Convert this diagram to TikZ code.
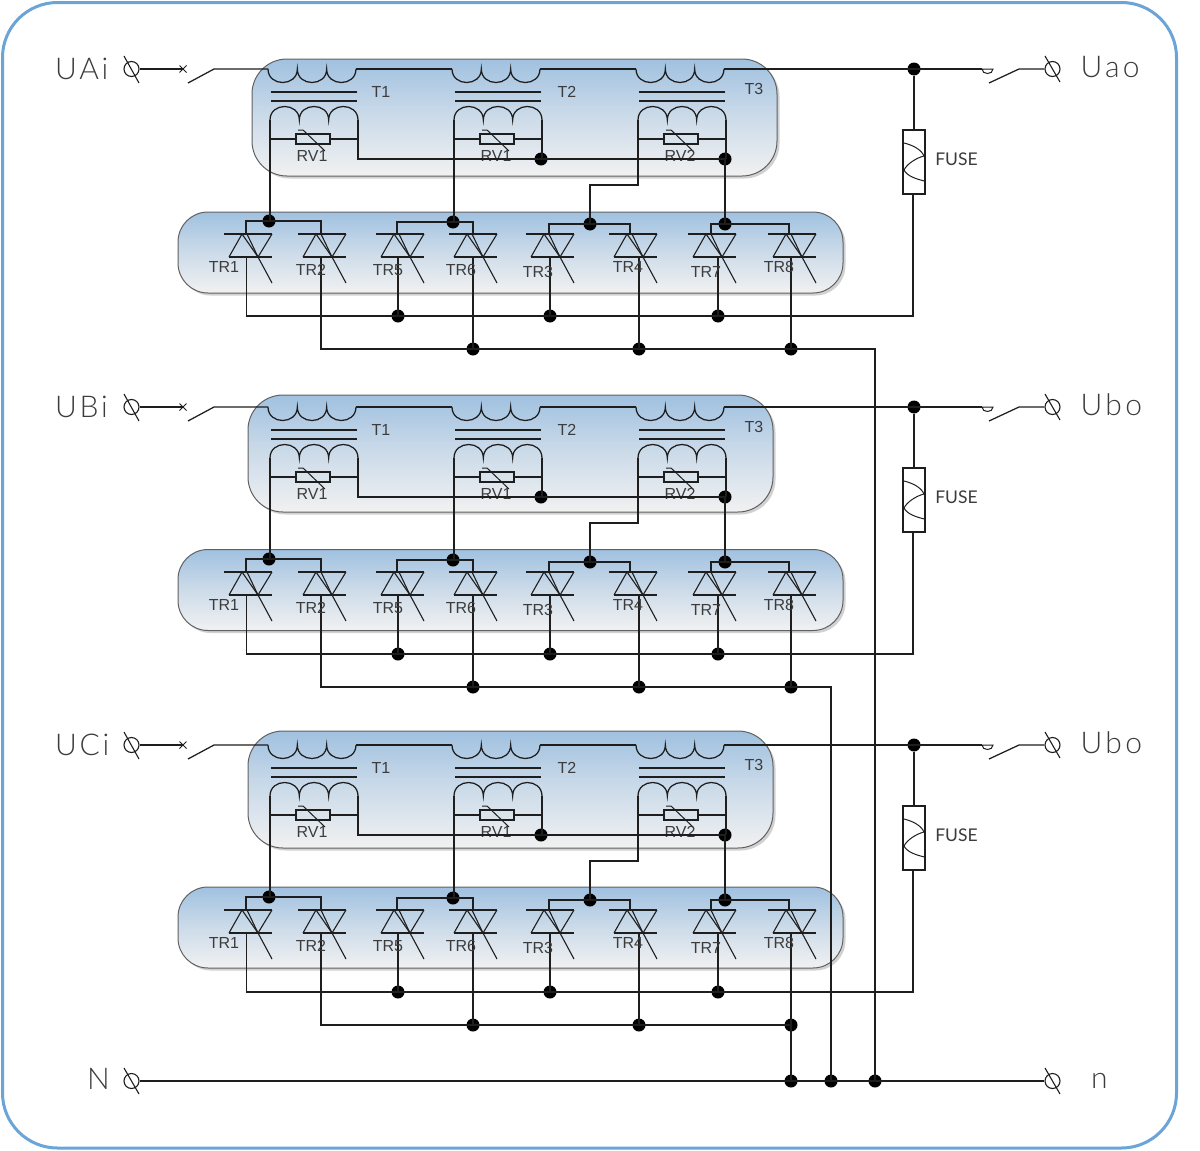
\documentclass[tikz,border=0pt]{standalone}
\usepackage{fontspec}
\setmainfont{Liberation Sans}
\newfontfamily\bigfont[LetterSpace=9]{Lato Light}
\newfontfamily\bigfontw[LetterSpace=11]{Lato Light}
\newfontfamily\fusefont{Lato}
\definecolor{framec}{HTML}{6BA5D8}
\definecolor{panelt}{HTML}{A0C1E0}
\definecolor{panelb}{HTML}{F1F1F1}
\definecolor{wirec}{HTML}{1E1E1E}
\definecolor{txtc}{HTML}{3C3C3C}
\tikzset{
  wire/.style={draw=wirec,line width=1.25pt,line join=miter},
  panel/.style={draw=black!62,line width=1pt,top color=panelt,bottom color=panelb,middle color=panelt!45!panelb},
  shadowp/.style={fill=black!45,opacity=.4,draw=none},
  jn/.style={circle,fill=black,inner sep=0pt,minimum size=13pt,draw=none},
  term/.style={circle,draw=wirec,line width=1.1pt,inner sep=0pt,minimum size=15pt},
  lab/.style={text=txtc,font=\fontsize{16}{16}\selectfont,inner sep=0pt},
  biglab/.style={text=txtc,font=\bigfont\fontsize{30}{30}\selectfont,inner sep=0pt},
  biglabw/.style={text=txtc,font=\bigfontw\fontsize{30}{30}\selectfont,inner sep=0pt},
  fuselab/.style={text=txtc,font=\fusefont\fontsize{17.5}{17.5}\selectfont,inner sep=0pt},
  fusebox/.style={draw=wirec,line width=1.1pt,minimum width=22pt,minimum height=64pt,inner sep=0pt},
  rvbox/.style={draw=wirec,line width=1.1pt,fill=panelt!30!panelb,minimum width=34pt,minimum height=10pt,inner sep=0pt}
}
% three scallops, d = bulge of the control points
\newcommand{\coilpath}[3]{(#1,#2) .. controls +(0,#3) and +(0,#3) .. ++(29.33,0) .. controls +(0,#3) and +(0,#3) .. ++(29.33,0) .. controls +(0,#3) and +(0,#3) .. ++(29.34,0)}
\newcommand{\xformer}[3]{% prefix, x of coil left, rv name
  \draw[wire] \coilpath{#2}{69}{18};
  \draw[wire] (#2+3,92) -- (#2+89,92);
  \draw[wire] (#2+3,101) -- (#2+89,101);
  \draw[wire] \coilpath{#2+2}{120}{-18};
  \node[rvbox] (#1rv) at (#2+45,139) {};
  \draw[wire] (#2+2,139) -- (#1rv.west);
  \draw[wire] (#1rv.east) -- (#2+90,139);
  \draw[wire,line width=1pt] (#2+30,130) -- (#2+35,130) -- (#2+57,151);
  \node[lab] (#1rvl) at (#2+44,155.5) {#3};
}
\newcommand{\thy}[1]{% left end of the bars
  \draw[wire,line width=1.1pt] (#1,234) -- (#1+48,234);
  \draw[wire,line width=1.1pt] (#1+5,257) -- (#1+48,257);
  \draw[wire,line width=1.1pt] (#1+5,257) -- (#1+18,234) -- (#1+34,257) -- (#1+48,283);
  \draw[wire,line width=1.1pt] (#1+48,234) -- (#1+34,257) -- (#1+23,234);
}
\newcommand{\phase}[7]{% prefix, y shift, panel dx, in label, out label, thyristor panel dy, transformer panel dy
  \begin{scope}[yshift=-#2pt]
    \begin{scope}[yshift=#7pt]
      \fill[shadowp,rounded corners=35pt] (#3+254.5,61.5) rectangle (#3+779.5,178.5);
      \path[panel,rounded corners=35pt] (#3+252,59) rectangle (#3+777,176);
    \end{scope}
    \begin{scope}[yshift=#6pt]
      \fill[shadowp,rounded corners=30pt] (180.5,214.5) rectangle (845.5,295.5);
      \path[panel,rounded corners=30pt] (178,212) rectangle (843,293);
    \end{scope}
    % terminals
    \node[term] (#1in) at (131.5,69) {};
    \draw[wire,line width=1.1pt] (124,56) -- (139,83);
    \coordinate (#1brk) at (183,69);
    \draw[wire,line width=1.1pt] (#1in.east) -- (#1brk);
    \draw[wire,line width=1pt] (179.5,65.5) -- (186.5,72.5) (179.5,72.5) -- (186.5,65.5);
    \coordinate (#1swa) at (188,83);
    \coordinate (#1swb) at (214,69);
    \coordinate (#1p1) at (268,69);
    \draw[wire] (#1swa) -- (#1swb) -- (#1p1);
    \xformer{#1a}{268}{RV1}
    \xformer{#1b}{452}{RV1}
    \xformer{#1c}{636}{RV2}
    \draw[wire] (356,69) -- (452,69) (540,69) -- (636,69);
    \coordinate (#1o) at (982,69);
    \node[jn] (#1fj) at (914,69) {};
    \draw[wire] (724,69) -- (#1fj.center) -- (#1o);
    \draw[wire,line width=1pt] (#1o) .. controls (982,75) and (993,75) .. (993,69) -- cycle;
    \node[term] (#1out) at (1052.5,69) {};
    \draw[wire,line width=1.1pt] (1045,56) -- (1060,82);
    \coordinate (#1swc) at (989,83);
    \coordinate (#1swd) at (1019,69);
    \draw[wire] (#1swc) -- (#1swd) -- (#1out.west);
    % fuse
    \node[fusebox] (#1fuse) at (914,162) {};
    \draw[wire] (#1fj) -- (#1fuse.north);
    \draw[wire,line width=1pt] (904,143) .. controls (912,145) and (921,149) .. (924,156)
       .. controls (916,158) and (907,164) .. (904,170)
       .. controls (907,176) and (916,179) .. (924.5,181);
    % secondary wiring
    \node[jn] (#1d1) at (541,159) {};
    \node[jn] (#1d2) at (725,159) {};
    \draw[wire] (358,120) -- (358,159) -- (#1d2.center);
    \draw[wire] (542,120) -- (542,159);
    \draw[wire] (726,120) -- (726,159);
    \node[jn] (#1j1) at (269,221) {};
    \node[jn] (#1j2) at (453,222) {};
    \node[jn] (#1j3) at (590,224) {};
    \node[jn] (#1j4) at (725,224) {};
    \draw[wire] (270,120) -- (270,221);
    \draw[wire] (454,120) -- (454,222);
    \draw[wire] (638,120) -- (638,185) -- (590,185) -- (#1j3.center);
    \draw[wire] (#1d2.center) -- (#1j4.center);
    % thyristors
    \foreach \L in {224,298,376,449,526,609,688,768}{\thy{\L}}
    \draw[wire] (246,234) -- (246,221) -- (321,221) -- (321,234);
    \draw[wire] (397,234) -- (397,222) -- (473,222) -- (473,234);
    \draw[wire] (549,234) -- (549,224) -- (630,224) -- (630,234);
    \draw[wire] (711,234) -- (711,224) -- (789,224) -- (789,234);
    % buses
    \node[jn] (#1s1) at (398,316) {};
    \node[jn] (#1s2) at (550,316) {};
    \node[jn] (#1s3) at (718,316) {};
    \node[jn] (#1r1) at (473,349) {};
    \node[jn] (#1r2) at (639,349) {};
    \node[jn] (#1r3) at (791,349) {};
    \draw[wire] (246.5,257) -- (246.5,316) -- (913,316) -- (913,194);
    \draw[wire] (398,257) -- (#1s1.center);
    \draw[wire] (550,257) -- (#1s2.center);
    \draw[wire] (718,257) -- (#1s3.center);
    \draw[wire] (473,257) -- (#1r1.center);
    \draw[wire] (639,257) -- (#1r2.center);
    \draw[wire] (791,257) -- (#1r3.center);
    \coordinate (#1rs) at (321,349);
    \draw[wire] (321,257) -- (#1rs) -- (#1r3.center);
    % labels
    \node[lab] (#1t1) at (381,92) {T1};
    \node[lab] (#1t2) at (567,92) {T2};
    \node[lab] (#1t3) at (754,89) {T3};
    \node[lab] (#1l1) at (224,267) {TR1};
    \node[lab] (#1l2) at (311,270) {TR2};
    \node[lab] (#1l3) at (388,270) {TR5};
    \node[lab] (#1l4) at (461,270) {TR6};
    \node[lab] (#1l5) at (538,272) {TR3};
    \node[lab] (#1l6) at (628,267) {TR4};
    \node[lab] (#1l7) at (706,272) {TR7};
    \node[lab] (#1l8) at (779,267) {TR8};
    \node[fuselab] (#1fl) at (956.5,159.5) {FUSE};
    \node[biglab,anchor=west] (#1il) at (55,69) {#4};
    \node[biglabw,anchor=west] (#1ol) at (1080.5,67) {#5};
  \end{scope}
}
\begin{document}
\begin{tikzpicture}[x=1pt,y=-1pt]
  \useasboundingbox (0,0) rectangle (1200,1151);
  \fill[white] (0,0) rectangle (1200,1151);
  \draw[framec,line width=3pt,rounded corners=55pt] (2.5,2.5) rectangle (1176.5,1148);
  \phase{A}{0}{0}{UAi}{Uao}{0}{0}
  \phase{B}{338}{-4}{UBi}{Ubo}{0.5}{2}
  \phase{C}{676}{-4}{UCi}{Ubo}{1}{4}
  % neutral
  \node[term] (Nin) at (131.5,1081) {};
  \draw[wire,line width=1.1pt] (124,1068) -- (139,1094);
  \node[term] (Nout) at (1052.5,1081) {};
  \draw[wire,line width=1.1pt] (1045,1068) -- (1060,1094);
  \node[jn] (Nc) at (791,1081) {};
  \node[jn] (Nb) at (831,1081) {};
  \node[jn] (Na) at (875,1081) {};
  \draw[wire] (Nin.east) -- (Nout.west);
  \draw[wire] (Ar3.center) -- (875,349) -- (Na.center);
  \draw[wire] (Br3.center) -- (831,687) -- (Nb.center);
  \draw[wire] (Cr3.center) -- (Nc.center);
  \node[biglab,anchor=west] (Nl) at (87,1079) {N};
  \node[biglab,anchor=west] (nl) at (1091,1081) {n};
\end{tikzpicture}
\end{document}
